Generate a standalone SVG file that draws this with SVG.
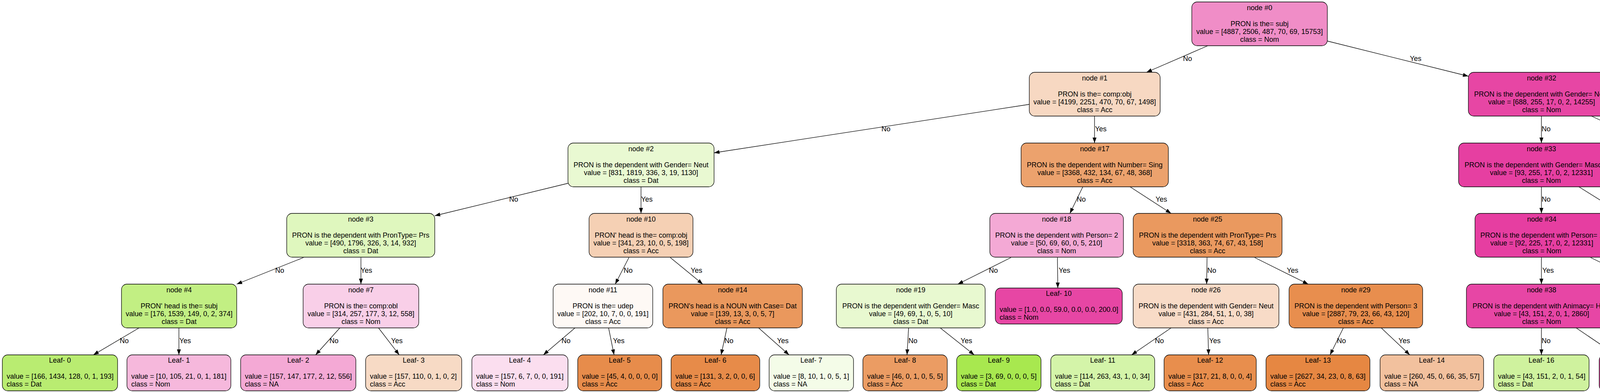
<svg xmlns="http://www.w3.org/2000/svg" width="4535" height="1003" viewBox="0 0 4535 1003">
<style>
rect.b{stroke:#000;stroke-width:1.3}
text{font-family:"Liberation Sans",Helvetica,Arial,sans-serif;font-size:18px;fill:#000}
.c{text-anchor:middle}
#edges line{stroke:#000;stroke-width:1.3;marker-end:url(#arr)}
</style>
<defs>
<marker id="arr" markerUnits="userSpaceOnUse" markerWidth="15" markerHeight="12" refX="14" refY="5" orient="auto"><path d="M0,0 L14,5 L0,10 z" fill="#000"/></marker>
</defs>
<rect width="4535" height="1003" fill="#fff"/>
<g id="edges">
<line x1="3092" y1="117" x2="2935" y2="185"/><text class="c" x="3040" y="156">No</text>
<line x1="3398" y1="105" x2="3759" y2="195"/><text class="c" x="3624" y="156">Yes</text>
<line x1="2635" y1="267" x2="1828" y2="391"/><text class="c" x="2268" y="336">No</text>
<line x1="2802" y1="297" x2="2802" y2="366"/><text class="c" x="2818" y="336">Yes</text>
<line x1="3946" y1="297" x2="3946" y2="366"/><text class="c" x="3958" y="336">No</text>
<line x1="4074" y1="297" x2="4245" y2="376"/><text class="c" x="4179" y="336">Yes</text>
<line x1="1454" y1="469" x2="1113" y2="552"/><text class="c" x="1315" y="516">No</text>
<line x1="1641" y1="478" x2="1641" y2="546"/><text class="c" x="1656" y="516">Yes</text>
<line x1="2772" y1="478" x2="2739" y2="546"/><text class="c" x="2768" y="516">No</text>
<line x1="2893" y1="478" x2="2998" y2="546"/><text class="c" x="2973" y="516">Yes</text>
<line x1="3946" y1="478" x2="3946" y2="546"/><text class="c" x="3958" y="516">No</text>
<line x1="4042" y1="478" x2="4167" y2="556"/><text class="c" x="4124" y="516">Yes</text>
<line x1="777" y1="659" x2="606" y2="727"/><text class="c" x="716" y="698">No</text>
<line x1="924" y1="659" x2="924" y2="727"/><text class="c" x="938" y="698">Yes</text>
<line x1="1610" y1="659" x2="1575" y2="727"/><text class="c" x="1608" y="698">No</text>
<line x1="1716" y1="659" x2="1799" y2="727"/><text class="c" x="1783" y="698">Yes</text>
<line x1="2588" y1="659" x2="2452" y2="727"/><text class="c" x="2543" y="698">No</text>
<line x1="2707" y1="659" x2="2708" y2="737"/><text class="c" x="2725" y="698">Yes</text>
<line x1="3090" y1="659" x2="3089" y2="727"/><text class="c" x="3102" y="698">No</text>
<line x1="3212" y1="659" x2="3349" y2="727"/><text class="c" x="3309" y="698">Yes</text>
<line x1="3946" y1="659" x2="3946" y2="727"/><text class="c" x="3963" y="698">Yes</text>
<line x1="4072" y1="659" x2="4233" y2="737"/><text class="c" x="4167" y="698">No</text>
<line x1="356" y1="839" x2="239" y2="908"/><text class="c" x="318" y="878">No</text>
<line x1="458" y1="839" x2="458" y2="908"/><text class="c" x="474" y="878">Yes</text>
<line x1="870" y1="839" x2="808" y2="908"/><text class="c" x="855" y="878">No</text>
<line x1="969" y1="839" x2="1022" y2="908"/><text class="c" x="1016" y="878">Yes</text>
<line x1="1472" y1="839" x2="1391" y2="908"/><text class="c" x="1449" y="878">No</text>
<line x1="1558" y1="839" x2="1572" y2="908"/><text class="c" x="1584" y="878">Yes</text>
<line x1="1861" y1="839" x2="1846" y2="908"/><text class="c" x="1866" y="878">No</text>
<line x1="1942" y1="839" x2="2020" y2="908"/><text class="c" x="2004" y="878">Yes</text>
<line x1="2326" y1="839" x2="2322" y2="908"/><text class="c" x="2337" y="878">No</text>
<line x1="2407" y1="839" x2="2494" y2="908"/><text class="c" x="2474" y="878">Yes</text>
<line x1="2998" y1="839" x2="2897" y2="908"/><text class="c" x="2968" y="878">No</text>
<line x1="3092" y1="839" x2="3094" y2="908"/><text class="c" x="3110" y="878">Yes</text>
<line x1="3439" y1="839" x2="3405" y2="908"/><text class="c" x="3434" y="878">No</text>
<line x1="3536" y1="839" x2="3609" y2="908"/><text class="c" x="3595" y="878">Yes</text>
<line x1="3946" y1="839" x2="3946" y2="908"/><text class="c" x="3958" y="878">No</text>
<line x1="4035" y1="839" x2="4137" y2="908"/><text class="c" x="4111" y="878">Yes</text>
</g>
<g id="node0"><rect class="b" x="3051" y="5" width="347" height="112" rx="14" fill="#f08dc7"/><text class="c" x="3224.5" y="26">node #0</text><text class="c" x="3224.5" y="67">PRON is the= subj</text><text class="c" x="3224.5" y="87">value = [4887, 2506, 487, 70, 69, 15753]</text><text class="c" x="3224.5" y="107">class = Nom</text></g>
<g id="node1"><rect class="b" x="2635" y="185" width="335" height="112" rx="14" fill="#f7d8c2"/><text class="c" x="2802.5" y="206">node #1</text><text class="c" x="2802.5" y="247">PRON is the= comp:obj</text><text class="c" x="2802.5" y="267">value = [4199, 2251, 470, 70, 67, 1498]</text><text class="c" x="2802.5" y="287">class = Acc</text></g>
<g id="node32"><rect class="b" x="3759" y="185" width="375" height="112" rx="14" fill="#e746a4"/><text class="c" x="3946.5" y="206">node #32</text><text class="c" x="3946.5" y="247">PRON is the dependent with Gender= Neut</text><text class="c" x="3946.5" y="267">value = [688, 255, 17, 0, 2, 14255]</text><text class="c" x="3946.5" y="287">class = Nom</text></g>
<g id="node2"><rect class="b" x="1454" y="366" width="374" height="112" rx="14" fill="#e9f9d2"/><text class="c" x="1641" y="387">node #2</text><text class="c" x="1641" y="428">PRON is the dependent with Gender= Neut</text><text class="c" x="1641" y="448">value = [831, 1819, 336, 3, 19, 1130]</text><text class="c" x="1641" y="468">class = Dat</text></g>
<g id="node17"><rect class="b" x="2614" y="366" width="377" height="112" rx="14" fill="#eca26d"/><text class="c" x="2802.5" y="387">node #17</text><text class="c" x="2802.5" y="428">PRON is the dependent with Number= Sing</text><text class="c" x="2802.5" y="448">value = [3368, 432, 134, 67, 48, 368]</text><text class="c" x="2802.5" y="468">class = Acc</text></g>
<g id="node33"><rect class="b" x="3734" y="366" width="424" height="112" rx="14" fill="#e63fa1"/><text class="c" x="3946" y="387">node #33</text><text class="c" x="3946" y="428">PRON is the dependent with Gender= Masc/Neut</text><text class="c" x="3946" y="448">value = [93, 255, 17, 0, 2, 12331]</text><text class="c" x="3946" y="468">class = Nom</text></g>
<g id="leaf19"><rect class="b" x="4183" y="376" width="345" height="92" rx="14" fill="#f3acd5"/><text class="c" x="4355.5" y="396">Leaf- 19</text><text x="4194" y="437">value = [595.0, 0.0, 0.0, 0.0, 0.0, 1924.0]</text><text x="4194" y="457">class = Nom</text></g>
<g id="node3"><rect class="b" x="734" y="546" width="379" height="112" rx="14" fill="#dff7be"/><text class="c" x="923.5" y="567">node #3</text><text class="c" x="923.5" y="608">PRON is the dependent with PronType= Prs</text><text class="c" x="923.5" y="628">value = [490, 1796, 326, 3, 14, 932]</text><text class="c" x="923.5" y="648">class = Dat</text></g>
<g id="node10"><rect class="b" x="1508" y="546" width="266" height="112" rx="14" fill="#f5d0b4"/><text class="c" x="1641" y="567">node #10</text><text class="c" x="1641" y="608">PRON' head is the= comp:obj</text><text class="c" x="1641" y="628">value = [341, 23, 10, 0, 5, 198]</text><text class="c" x="1641" y="648">class = Acc</text></g>
<g id="node18"><rect class="b" x="2534" y="546" width="342" height="112" rx="14" fill="#f4a9d5"/><text class="c" x="2705" y="567">node #18</text><text class="c" x="2705" y="608">PRON is the dependent with Person= 2</text><text class="c" x="2705" y="628">value = [50, 69, 60, 0, 5, 210]</text><text class="c" x="2705" y="648">class = Nom</text></g>
<g id="node25"><rect class="b" x="2901" y="546" width="381" height="112" rx="14" fill="#ea995f"/><text class="c" x="3091.5" y="567">node #25</text><text class="c" x="3091.5" y="608">PRON is the dependent with PronType= Prs</text><text class="c" x="3091.5" y="628">value = [3318, 363, 74, 67, 43, 158]</text><text class="c" x="3091.5" y="648">class = Acc</text></g>
<g id="node34"><rect class="b" x="3776" y="546" width="342" height="112" rx="14" fill="#e63ea1"/><text class="c" x="3947" y="567">node #34</text><text class="c" x="3947" y="608">PRON is the dependent with Person= 1</text><text class="c" x="3947" y="628">value = [92, 225, 17, 0, 2, 12331]</text><text class="c" x="3947" y="648">class = Nom</text></g>
<g id="leaf18"><rect class="b" x="4143" y="556" width="215" height="92" rx="14" fill="#a0e640"/><text class="c" x="4250.5" y="576">Leaf- 18</text><text x="4154" y="617">value = [1, 30, 0, 0, 0, 0]</text><text x="4154" y="637">class = Dat</text></g>
<g id="node4"><rect class="b" x="311" y="727" width="295" height="112" rx="14" fill="#c2ef83"/><text class="c" x="458.5" y="748">node #4</text><text class="c" x="458.5" y="789">PRON' head is the= subj</text><text class="c" x="458.5" y="809">value = [176, 1539, 149, 0, 2, 374]</text><text class="c" x="458.5" y="829">class = Dat</text></g>
<g id="node7"><rect class="b" x="776" y="727" width="296" height="112" rx="14" fill="#f9cfe8"/><text class="c" x="924" y="748">node #7</text><text class="c" x="924" y="789">PRON is the= comp:obl</text><text class="c" x="924" y="809">value = [314, 257, 177, 3, 12, 558]</text><text class="c" x="924" y="829">class = Nom</text></g>
<g id="node11"><rect class="b" x="1416" y="727" width="255" height="112" rx="14" fill="#fef9f5"/><text class="c" x="1543.5" y="748">node #11</text><text class="c" x="1543.5" y="789">PRON is the= udep</text><text class="c" x="1543.5" y="809">value = [202, 10, 7, 0, 0, 191]</text><text class="c" x="1543.5" y="829">class = Acc</text></g>
<g id="node14"><rect class="b" x="1697" y="727" width="357" height="112" rx="14" fill="#ea985d"/><text class="c" x="1875.5" y="748">node #14</text><text class="c" x="1875.5" y="789">PRON's head is a NOUN with Case= Dat</text><text class="c" x="1875.5" y="809">value = [139, 13, 3, 0, 5, 7]</text><text class="c" x="1875.5" y="829">class = Acc</text></g>
<g id="node19"><rect class="b" x="2141" y="727" width="381" height="112" rx="14" fill="#e8f9d0"/><text class="c" x="2331.5" y="748">node #19</text><text class="c" x="2331.5" y="789">PRON is the dependent with Gender= Masc</text><text class="c" x="2331.5" y="809">value = [49, 69, 1, 0, 5, 10]</text><text class="c" x="2331.5" y="829">class = Dat</text></g>
<g id="leaf10"><rect class="b" x="2548" y="737" width="325" height="92" rx="14" fill="#e746a4"/><text class="c" x="2710.5" y="757">Leaf- 10</text><text x="2559" y="798">value = [1.0, 0.0, 59.0, 0.0, 0.0, 200.0]</text><text x="2559" y="818">class = Nom</text></g>
<g id="node26"><rect class="b" x="2901" y="727" width="373" height="112" rx="14" fill="#f8dbc7"/><text class="c" x="3087.5" y="748">node #26</text><text class="c" x="3087.5" y="789">PRON is the dependent with Gender= Neut</text><text class="c" x="3087.5" y="809">value = [431, 284, 51, 1, 0, 38]</text><text class="c" x="3087.5" y="829">class = Acc</text></g>
<g id="node29"><rect class="b" x="3300" y="727" width="342" height="112" rx="14" fill="#e88e4e"/><text class="c" x="3471" y="748">node #29</text><text class="c" x="3471" y="789">PRON is the dependent with Person= 3</text><text class="c" x="3471" y="809">value = [2887, 79, 23, 66, 43, 120]</text><text class="c" x="3471" y="829">class = Acc</text></g>
<g id="node38"><rect class="b" x="3754" y="727" width="385" height="112" rx="14" fill="#e746a5"/><text class="c" x="3946.5" y="748">node #38</text><text class="c" x="3946.5" y="789">PRON is the dependent with Animacy= Hum</text><text class="c" x="3946.5" y="809">value = [43, 151, 2, 0, 1, 2860]</text><text class="c" x="3946.5" y="829">class = Nom</text></g>
<g id="leaf15"><rect class="b" x="4163" y="737" width="355" height="92" rx="14" fill="#e53b9f"/><text class="c" x="4340.5" y="757">Leaf- 15</text><text x="4174" y="798">value = [49.0, 74.0, 15.0, 0.0, 1.0, 9471.0]</text><text x="4174" y="818">class = Nom</text></g>
<g id="leaf0"><rect class="b" x="6" y="908" width="295" height="92" rx="14" fill="#b9ec71"/><text class="c" x="153.5" y="928">Leaf- 0</text><text x="17" y="969">value = [166, 1434, 128, 0, 1, 193]</text><text x="17" y="989">class = Dat</text></g>
<g id="leaf1"><rect class="b" x="325" y="908" width="266" height="92" rx="14" fill="#f6b8dc"/><text class="c" x="458" y="928">Leaf- 1</text><text x="336" y="969">value = [10, 105, 21, 0, 1, 181]</text><text x="336" y="989">class = Nom</text></g>
<g id="leaf2"><rect class="b" x="616" y="908" width="295" height="92" rx="14" fill="#f4a9d5"/><text class="c" x="763.5" y="928">Leaf- 2</text><text x="627" y="969">value = [157, 147, 177, 2, 12, 556]</text><text x="627" y="989">class = NA</text></g>
<g id="leaf3"><rect class="b" x="936" y="908" width="246" height="92" rx="14" fill="#f7dac5"/><text class="c" x="1059" y="928">Leaf- 3</text><text x="947" y="969">value = [157, 110, 0, 1, 0, 2]</text><text x="947" y="989">class = Acc</text></g>
<g id="leaf4"><rect class="b" x="1208" y="908" width="246" height="92" rx="14" fill="#fbdeef"/><text class="c" x="1331" y="928">Leaf- 4</text><text x="1219" y="969">value = [157, 6, 7, 0, 0, 191]</text><text x="1219" y="989">class = Nom</text></g>
<g id="leaf5"><rect class="b" x="1479" y="908" width="215" height="92" rx="14" fill="#e78c4b"/><text class="c" x="1586.5" y="928">Leaf- 5</text><text x="1490" y="969">value = [45, 4, 0, 0, 0, 0]</text><text x="1490" y="989">class = Acc</text></g>
<g id="leaf6"><rect class="b" x="1718" y="908" width="227" height="92" rx="14" fill="#e78b49"/><text class="c" x="1831.5" y="928">Leaf- 6</text><text x="1729" y="969">value = [131, 3, 2, 0, 0, 6]</text><text x="1729" y="989">class = Acc</text></g>
<g id="leaf7"><rect class="b" x="1969" y="908" width="216" height="92" rx="14" fill="#f4fce8"/><text class="c" x="2077" y="928">Leaf- 7</text><text x="1980" y="969">value = [8, 10, 1, 0, 5, 1]</text><text x="1980" y="989">class = NA</text></g>
<g id="leaf8"><rect class="b" x="2209" y="908" width="216" height="92" rx="14" fill="#eb9c63"/><text class="c" x="2317" y="928">Leaf- 8</text><text x="2220" y="969">value = [46, 0, 1, 0, 5, 5]</text><text x="2220" y="989">class = Acc</text></g>
<g id="leaf9"><rect class="b" x="2449" y="908" width="216" height="92" rx="14" fill="#a8e84f"/><text class="c" x="2557" y="928">Leaf- 9</text><text x="2460" y="969">value = [3, 69, 0, 0, 0, 5]</text><text x="2460" y="989">class = Dat</text></g>
<g id="leaf11"><rect class="b" x="2690" y="908" width="266" height="92" rx="14" fill="#d4f4a9"/><text class="c" x="2823" y="928">Leaf- 11</text><text x="2701" y="969">value = [114, 263, 43, 1, 0, 34]</text><text x="2701" y="989">class = Dat</text></g>
<g id="leaf12"><rect class="b" x="2980" y="908" width="236" height="92" rx="14" fill="#e88e4d"/><text class="c" x="3098" y="928">Leaf- 12</text><text x="2991" y="969">value = [317, 21, 8, 0, 0, 4]</text><text x="2991" y="989">class = Acc</text></g>
<g id="leaf13"><rect class="b" x="3241" y="908" width="266" height="92" rx="14" fill="#e68742"/><text class="c" x="3374" y="928">Leaf- 13</text><text x="3252" y="969">value = [2627, 34, 23, 0, 8, 63]</text><text x="3252" y="989">class = Acc</text></g>
<g id="leaf14"><rect class="b" x="3533" y="908" width="265" height="92" rx="14" fill="#f2c19e"/><text class="c" x="3665.5" y="928">Leaf- 14</text><text x="3544" y="969">value = [260, 45, 0, 66, 35, 57]</text><text x="3544" y="989">class = NA</text></g>
<g id="leaf16"><rect class="b" x="3824" y="908" width="244" height="92" rx="14" fill="#cff29e"/><text class="c" x="3946" y="928">Leaf- 16</text><text x="3835" y="969">value = [43, 151, 2, 0, 1, 54]</text><text x="3835" y="989">class = Dat</text></g>
<g id="leaf17"><rect class="b" x="4094" y="908" width="235" height="92" rx="14" fill="#e5399e"/><text class="c" x="4211.5" y="928">Leaf- 17</text><text x="4105" y="969">value = [0, 0, 0, 0, 0, 2806]</text><text x="4105" y="989">class = Nom</text></g>
</svg>
